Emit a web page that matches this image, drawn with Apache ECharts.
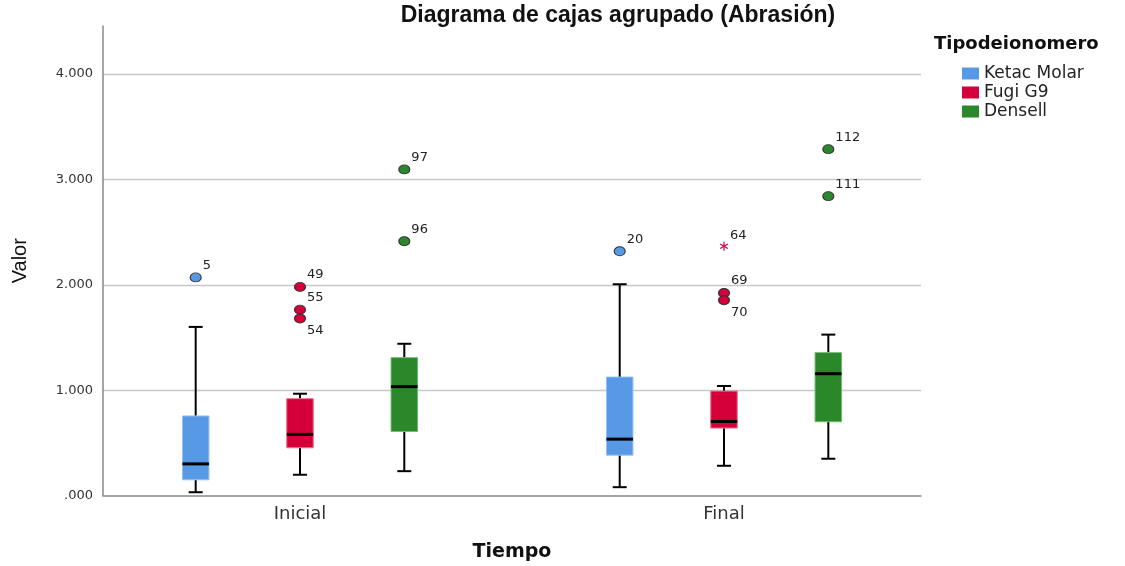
<!DOCTYPE html>
<html>
<head>
<meta charset="utf-8">
<script src="https://cdn.jsdelivr.net/npm/echarts@6/dist/echarts.min.js"></script>
<style>html,body{margin:0;padding:0;background:#fff;}#c{width:1125px;height:566px;}</style>
</head>
<body>
<div id="c"></div>
<script>
// ---- data ----
const categories = ['Inicial', 'Final'];
const seriesNames = ['Ketac Molar', 'Fugi G9', 'Densell'];
// [low whisker, Q1, median, Q3, high whisker] per category
const ketacBox   = [[0.031, 0.149, 0.300, 0.755, 1.600], [0.079, 0.383, 0.535, 1.124, 2.005]];
const fugiBox    = [[0.197, 0.453, 0.580, 0.919, 0.966], [0.282, 0.640, 0.703, 0.991, 1.039]];
const densellBox = [[0.231, 0.608, 1.033, 1.308, 1.440], [0.349, 0.700, 1.156, 1.356, 1.527]];
// outliers: [category index, value, case id]
const ketacOut   = [[0, 2.070, '5'], [1, 2.318, '20']];
const fugiOut    = [[0, 1.980, '49'], [0, 1.764, '55'], [0, 1.680, '54'], [1, 1.922, '69'], [1, 1.853, '70']];
const fugiExtreme = [[1, 2.366, '64']];
const densellOut = [[0, 3.095, '97'], [0, 2.413, '96'], [1, 3.287, '112'], [1, 2.841, '111']];
const yTicks = [0, 1, 2, 3, 4];
const yMax = 4.456;

// ---- styling ----
const colors = ['#5899E5', '#D5003A', '#2A872A'];
const strokes = ['#94c0f2', '#ee7090', '#70b870'];
const groupOffsets = [-0.246, 0, 0.246];
const belowLabels = ['54', '70'];
const FONT = 'DejaVu Sans';

const boxes = [ketacBox, fugiBox, densellBox];
const outs = [ketacOut, fugiOut, densellOut];

function makeRender(si) {
  return function (params, api) {
    const x = api.value(0);
    const lo = api.coord([x, api.value(1)]);
    const q1 = api.coord([x, api.value(2)]);
    const md = api.coord([x, api.value(3)]);
    const q3 = api.coord([x, api.value(4)]);
    const hi = api.coord([x, api.value(5)]);
    const band = api.size([1, 0])[0];
    const bw = band * 0.0625;
    const cw = band * 0.033;
    const cx = md[0];
    const ls = { stroke: '#000', lineWidth: 2 };
    return {
      type: 'group',
      children: [
        { type: 'line', shape: { x1: cx, y1: lo[1], x2: cx, y2: q1[1] }, style: ls },
        { type: 'line', shape: { x1: cx, y1: q3[1], x2: cx, y2: hi[1] }, style: ls },
        { type: 'line', shape: { x1: cx - cw / 2, y1: lo[1], x2: cx + cw / 2, y2: lo[1] }, style: ls },
        { type: 'line', shape: { x1: cx - cw / 2, y1: hi[1], x2: cx + cw / 2, y2: hi[1] }, style: ls },
        { type: 'rect', shape: { x: cx - bw / 2, y: q3[1], width: bw, height: q1[1] - q3[1] },
          style: { fill: colors[si], stroke: strokes[si], lineWidth: 1 } },
        { type: 'line', shape: { x1: cx - bw / 2, y1: md[1], x2: cx + bw / 2, y2: md[1] },
          style: { stroke: '#000', lineWidth: 3 } }
      ]
    };
  };
}

const series = [];
boxes.forEach((b, si) => {
  series.push({
    name: seriesNames[si],
    type: 'custom',
    renderItem: makeRender(si),
    itemStyle: { color: colors[si] },
    encode: { x: 0, y: [1, 2, 3, 4, 5] },
    data: b.map((v, ci) => [ci + groupOffsets[si]].concat(v)),
    z: 2
  });
});
outs.forEach((o, si) => {
  series.push({
    name: seriesNames[si] + ' outliers',
    type: 'scatter',
    symbol: 'circle',
    symbolSize: [11, 9],
    itemStyle: { color: colors[si], borderColor: '#333', borderWidth: 1, opacity: 1 },
    data: o.map(p => {
      const below = belowLabels.indexOf(p[2]) >= 0;
      return {
        value: [p[0] + groupOffsets[si], p[1]],
        name: p[2],
        label: { offset: [0, below ? 12 : -12] }
      };
    }),
    label: {
      show: true, position: 'right', distance: 1,
      formatter: p => p.name,
      fontFamily: FONT, fontSize: 13, color: '#222'
    },
    z: 3
  });
});
// extreme value (asterisk)
series.push({
  name: 'Fugi G9 extremos',
  type: 'custom',
  encode: { x: 0, y: 1 },
  data: fugiExtreme.map(p => [p[0] + groupOffsets[1], p[1]]),
  renderItem: function (params, api) {
    const c = api.coord([api.value(0), api.value(1)]);
    const r = 4.5;
    const st = { stroke: colors[1], lineWidth: 1.2 };
    const ch = [];
    for (let k = 0; k < 3; k++) {
      const a = Math.PI / 2 + k * Math.PI / 3;
      ch.push({ type: 'line', shape: { x1: c[0] - r * Math.cos(a), y1: c[1] - r * Math.sin(a), x2: c[0] + r * Math.cos(a), y2: c[1] + r * Math.sin(a) }, style: st });
    }
    ch.push({ type: 'text', x: c[0] + 6, y: c[1] - 11,
      style: { text: String(fugiExtreme[params.dataIndex][2]), font: '13px ' + FONT, fill: '#222', stroke: null, lineWidth: 0, verticalAlign: 'middle' } });
    return { type: 'group', children: ch };
  },
  z: 3
});

const option = {
  animation: false,
  backgroundColor: '#fff',
  title: {
    text: 'Diagrama de cajas agrupado (Abrasión)',
    left: 613, top: -1, textAlign: 'center',
    textStyle: { fontFamily: 'Liberation Sans', fontWeight: 'bold', fontSize: 23, color: '#111' }
  },
  graphic: [{
    type: 'text', left: 934, top: 35,
    style: { text: 'Tipodeionomero', font: 'bold 18px ' + FONT, fill: '#111' }
  }],
  legend: {
    data: seriesNames,
    orient: 'vertical', left: 962, top: 65,
    icon: 'rect', itemWidth: 17, itemHeight: 12, itemGap: 2, padding: 0,
    textStyle: { fontFamily: FONT, fontSize: 17, color: '#222', padding: [0, 0, 0, 0] }
  },
  grid: { left: 103, right: 204, top: 26, bottom: 70.5, containLabel: false, outerBoundsMode: 'none' },
  xAxis: {
    type: 'value', min: -0.4646, max: 1.4646,
    name: 'Tiempo', nameLocation: 'middle', nameGap: 47,
    nameTextStyle: { fontFamily: FONT, fontWeight: 'bold', fontSize: 19, color: '#111' },
    axisLine: { show: true, onZero: false, lineStyle: { color: '#888', width: 1.5 } },
    axisTick: { show: false },
    splitLine: { show: false },
    axisLabel: {
      customValues: [0, 1],
      formatter: v => categories[Math.round(v)],
      fontFamily: FONT, fontSize: 18, color: '#333', margin: 10
    }
  },
  yAxis: {
    type: 'value', min: 0, max: yMax, interval: 1,
    name: 'Valor', nameLocation: 'middle', nameGap: 73, nameRotate: 90,
    nameTextStyle: { fontFamily: 'Liberation Sans', fontSize: 20, color: '#111' },
    axisLine: { show: true, onZero: false, lineStyle: { color: '#888', width: 1.5 } },
    axisTick: { show: false },
    splitLine: { show: true, showMinLine: false, showMaxLine: false, lineStyle: { color: '#c8c8c8', width: 1.3 } },
    axisLabel: {
      showMaxLabel: false,
      formatter: v => (yTicks.indexOf(v) < 0 ? '' : (v === 0 ? '.000' : v.toFixed(3))),
      fontFamily: FONT, fontSize: 13, color: '#333', margin: 10
    }
  },
  series: series
};

const chart = echarts.init(document.getElementById('c'), null, { renderer: 'canvas' });
chart.setOption(option);
</script>
</body>
</html>
